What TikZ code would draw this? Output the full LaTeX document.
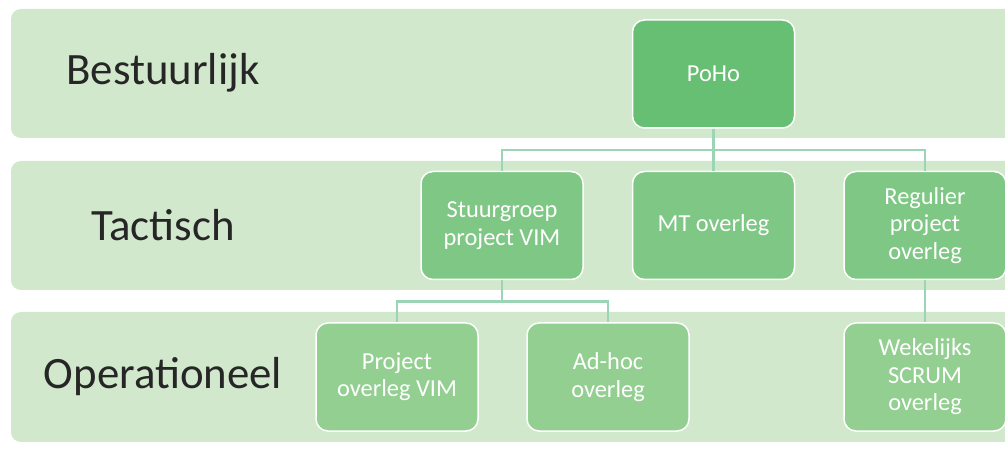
\documentclass[tikz,border=0pt]{standalone}
\usepackage{fontspec}
\setmainfont{Carlito}
\definecolor{bandgreen}{HTML}{D1E8CC}
\definecolor{topgreen}{HTML}{66BF72}
\definecolor{midgreen}{HTML}{7EC784}
\definecolor{lowgreen}{HTML}{92CF90}
\definecolor{linkgreen}{HTML}{9CD5B6}
\begin{document}
\begin{tikzpicture}[x=1bp,y=-1bp,
  band/.style={fill=bandgreen,draw=none,rounded corners=10bp},
  bandlabel/.style={font=\fontsize{45}{50}\selectfont,text=black!85,anchor=center,inner sep=0pt},
  unit/.style={draw=white,line width=1.5bp,rounded corners=12bp,minimum width=162bp,
    minimum height=108bp,inner sep=2bp,text=white,align=center,
    font=\fontsize{24.5}{27.5}\selectfont},
  top/.style={unit,fill=topgreen},
  mid/.style={unit,fill=midgreen},
  low/.style={unit,fill=lowgreen},
  link/.style={draw=linkgreen,line width=2.5bp}]
\useasboundingbox (0,0) rectangle (1005,449);
\fill[white] (0,0) rectangle (1005,449);
\clip (0,0) rectangle (1005,449);
% horizontal bands, running off the right edge
\fill[band] (11,9) rectangle (1030,138);
\fill[band] (11,161) rectangle (1030,290);
\fill[band] (11,312) rectangle (1030,442);
\node[bandlabel] (lvl1) at (163,73) {Bestuurlijk};
\node[bandlabel] (lvl2) at (163,225) {Tactisch};
\node[bandlabel] (lvl3) at (163,377) {Operationeel};
% branching points of the connectors
\coordinate (j1) at (713.5,150);
\coordinate (j2) at (502,301.5);
% units
\node[top] (poho) at (713.5,74) {PoHo};
\node[mid] (stuur) at (502,225.5) {Stuurgroep\\project VIM};
\node[mid] (mt) at (713.5,225.5) {MT overleg};
\node[mid] (regulier) at (925,225.5) {Regulier\\project\\overleg};
\node[low] (pvim) at (397,377) {Project\\overleg VIM};
\node[low] (adhoc) at (608,377) {Ad-hoc\\overleg};
\node[low] (scrum) at (925,377) {Wekelijks\\SCRUM\\overleg};
% connectors
\draw[link] (poho.south) -- (j1);
\draw[link] (j1) -| (stuur.north);
\draw[link] (j1) -- (mt.north);
\draw[link] (j1) -| (regulier.north);
\draw[link] (stuur.south) -- (j2);
\draw[link] (j2) -| (pvim.north);
\draw[link] (j2) -| (adhoc.north);
\draw[link] (regulier.south) -- (scrum.north);
\end{tikzpicture}
\end{document}
